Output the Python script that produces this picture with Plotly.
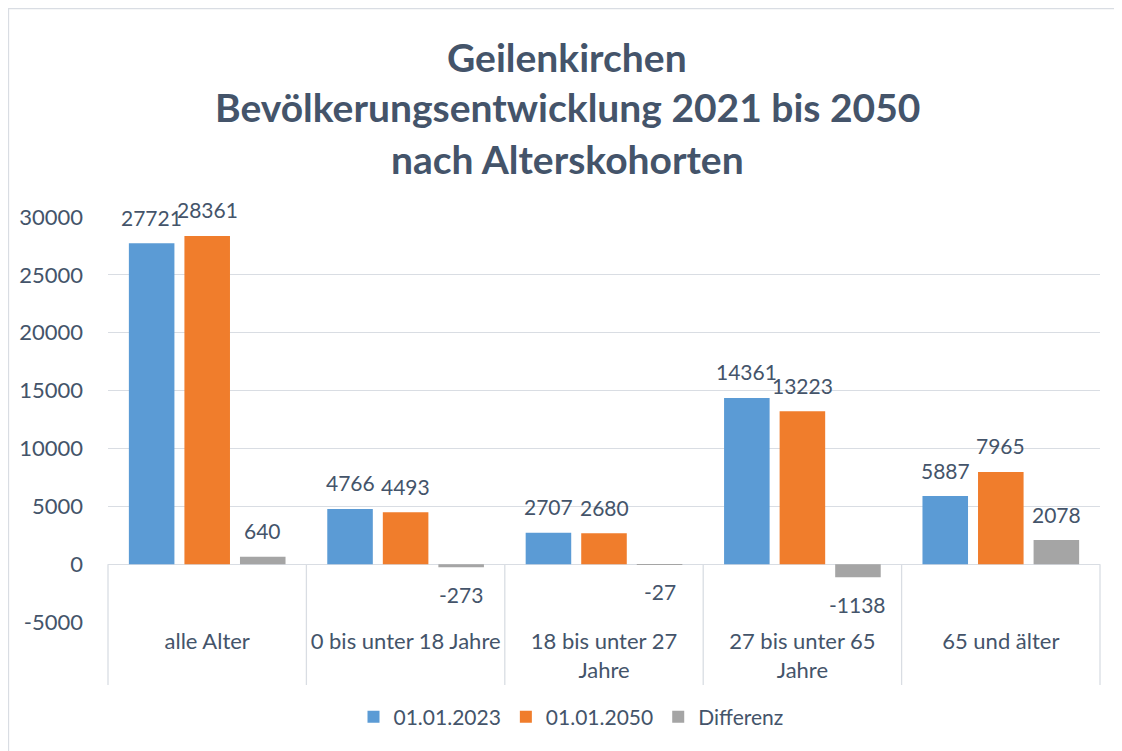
import plotly.graph_objects as go

categories = ["alle Alter", "0 bis unter 18 Jahre", "18 bis unter 27<br>Jahre",
              "27 bis unter 65<br>Jahre", "65 und älter"]
series_names = ["01.01.2023", "01.01.2050", "Differenz"]
values_2023 = [27721, 4766, 2707, 14361, 5887]
values_2050 = [28361, 4493, 2680, 13223, 7965]
values_diff = [640, -273, -27, -1138, 2078]
y_ticks = [-5000, 0, 5000, 10000, 15000, 20000, 25000, 30000]
title_lines = ["Geilenkirchen", "Bevölkerungsentwicklung 2021 bis 2050", "nach Alterskohorten"]

colors = ["#5B9BD5", "#F07D2C", "#A5A5A5"]
text_color = "#44546A"
grid_color = "#D9DDE3"
font_family = "Lato, 'Open Sans', sans-serif"

# page has an 8px body margin, so the figure is 8px smaller than the window
W, H = 1114, 743
ml, mr, mt, mb = 100, 22, 209, 129
bargap, bargroupgap = 0.16, 0.18

series_values = [values_2023, values_2050, values_diff]

fig = go.Figure()
for name, vals, col in zip(series_names, series_values, colors):
    fig.add_trace(go.Bar(
        x=categories, y=vals, name=name,
        marker=dict(color=col, line=dict(width=0)),
    ))

pw = W - ml - mr
ph = H - mt - mb
plot_bottom = H - mb
ymin, ymax = y_ticks[0], y_ticks[-1]
zero_paper = (0 - ymin) / (ymax - ymin)
n = len(categories)
shapes = []
for i in range(n + 1):
    xp = i / n
    shapes.append(dict(type="line", xref="paper", yref="paper",
                       x0=xp, x1=xp, y0=zero_paper, y1=-63 / ph,
                       line=dict(color=grid_color, width=1.3), layer="below"))
# chart border
shapes.append(dict(type="rect", xref="paper", yref="paper",
                   x0=(0.5 - ml) / pw, x1=(1110 - ml) / pw,
                   y0=(plot_bottom - 760) / ph, y1=(plot_bottom - 0.5) / ph,
                   line=dict(color=grid_color, width=1.3), layer="below"))

annotations = []
for line, cy in zip(title_lines, [49, 99, 151]):
    annotations.append(dict(text="<b>" + line + "</b>", xref="paper", yref="paper",
                            x=(559 - ml) / pw, xanchor="center",
                            y=(plot_bottom - cy) / ph, yanchor="middle",
                            showarrow=False,
                            font=dict(size=39, color=text_color, family=font_family)))

# data labels, placed at each bar's end via the axes
slot_px = (pw / n) * (1 - bargap) / len(series_values)
for s, vals in enumerate(series_values):
    for cat, v in zip(categories, vals):
        annotations.append(dict(text=str(v), xref="x", yref="y", x=cat, y=v,
                                xshift=(s - 1) * slot_px,
                                yshift=26 if v >= 0 else -27,
                                xanchor="center", yanchor="middle", showarrow=False,
                                font=dict(size=21, color=text_color, family=font_family)))

fig.update_layout(
    width=W, height=H,
    margin=dict(l=ml, r=mr, t=mt, b=mb, autoexpand=False),
    paper_bgcolor="white", plot_bgcolor="white",
    font=dict(family=font_family, color=text_color, size=22),
    barmode="group", bargap=bargap, bargroupgap=bargroupgap,
    shapes=shapes, annotations=annotations,
    legend=dict(orientation="h", x=(563 - ml) / pw, xanchor="center",
                y=(plot_bottom - 709) / ph, yanchor="middle",
                font=dict(size=21, color=text_color), itemwidth=30,
                traceorder="normal"),
    showlegend=True,
)
fig.update_yaxes(range=[ymin, ymax], tickvals=y_ticks, ticktext=[str(v) for v in y_ticks],
                 showgrid=True, gridcolor=grid_color, gridwidth=1.3, zeroline=True,
                 zerolinecolor=grid_color, zerolinewidth=1.3,
                 showline=False, ticks="", ticklabelstandoff=24,
                 tickfont=dict(size=22, color=text_color))
fig.update_xaxes(showgrid=False, showline=False, ticks="",
                 tickfont=dict(size=22, color=text_color), ticklabelstandoff=4)

fig.write_html("out.html")
